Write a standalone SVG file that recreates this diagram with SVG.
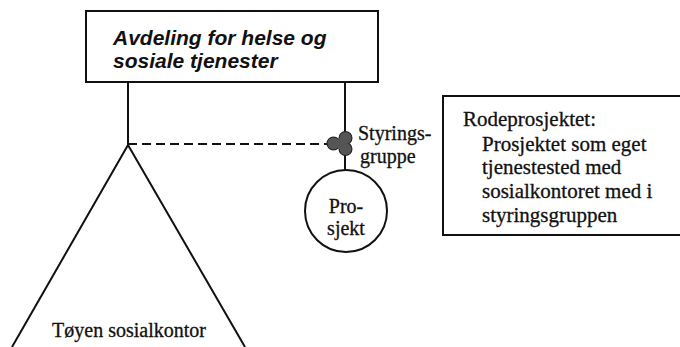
<svg xmlns="http://www.w3.org/2000/svg" width="680" height="347" viewBox="0 0 680 347">
<style>
.ln{stroke:#111;stroke-width:2;fill:none}
.sf{font-family:"Liberation Serif","Times New Roman",serif;font-size:20px;fill:#111;stroke:#111;stroke-width:0.3}
.tm{font-family:"Liberation Serif","Times New Roman",serif;font-size:21px;fill:#111;stroke:#111;stroke-width:0.3}
.hd{font-family:"Liberation Sans",Arial,sans-serif;font-size:21px;font-weight:bold;font-style:italic;fill:#111}
.lo{fill:#555;stroke:#222;stroke-width:2}
.lf{fill:#555}
</style>
<rect width="680" height="347" fill="#fff"/>
<g id="connectors">
<line class="ln" x1="128" y1="82" x2="128" y2="145"/>
<line class="ln" x1="345" y1="82" x2="345" y2="170"/>
<line class="ln" x1="128" y1="144" x2="328" y2="144" stroke-dasharray="9,5"/>
</g>
<g id="avdeling">
<rect class="ln" x="86" y="11" width="292" height="71"/>
<text class="hd" x="113" y="45">Avdeling for helse og</text>
<text class="hd" x="113" y="68">sosiale tjenester</text>
</g>
<g id="styringsgruppe">
<circle class="lo" cx="345.5" cy="138" r="6"/>
<circle class="lo" cx="333.5" cy="143.5" r="6"/>
<circle class="lo" cx="345.5" cy="149" r="6"/>
<circle class="lf" cx="345.5" cy="138" r="6"/>
<circle class="lf" cx="333.5" cy="143.5" r="6"/>
<circle class="lf" cx="345.5" cy="149" r="6"/>
<circle class="lf" cx="341" cy="143.5" r="5.5"/>
<text class="sf" x="358" y="140">Styrings-</text>
<text class="sf" x="360" y="163">gruppe</text>
</g>
<g id="prosjekt">
<circle class="ln" cx="346" cy="211" r="41"/>
<text class="sf" x="346" y="213" text-anchor="middle" font-size="21">Pro-</text>
<text class="sf" x="346" y="235" text-anchor="middle" font-size="21">sjekt</text>
</g>
<g id="tøyen">
<path class="ln" d="M12,347 L128,145 L245,347"/>
<text class="sf" x="129" y="337" text-anchor="middle" font-size="21">Tøyen sosialkontor</text>
</g>
<g id="rodeprosjektet">
<path class="ln" d="M681,96 H443 V235 H681"/>
<text class="tm" x="463" y="126">Rodeprosjektet:</text>
<text class="tm" x="482" y="151">Prosjektet som eget</text>
<text class="tm" x="482" y="174">tjenestested med</text>
<text class="tm" x="482" y="198">sosialkontoret med i</text>
<text class="tm" x="482" y="222">styringsgruppen</text>
</g>
</svg>
